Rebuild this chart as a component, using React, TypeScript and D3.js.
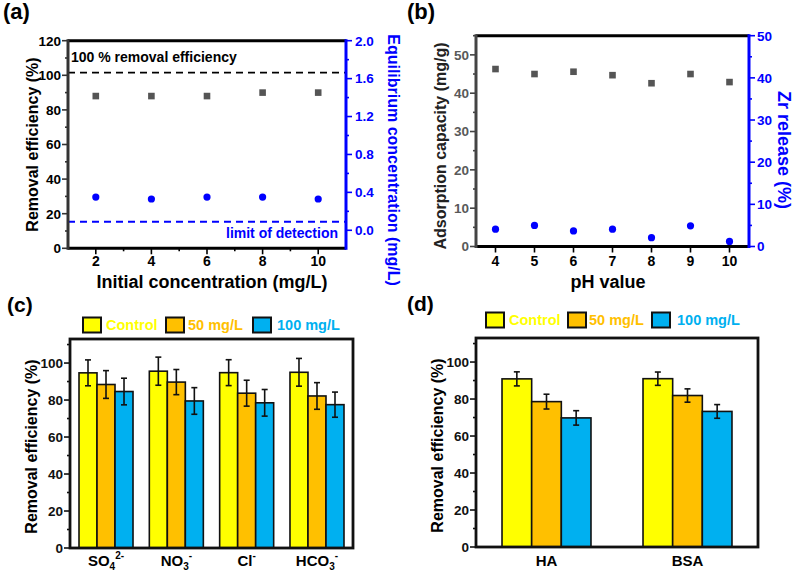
import React from 'react';
import * as d3 from 'd3';

const FONT = '"Liberation Sans", Arial, Helvetica, sans-serif';
const BLUE = '#0000ff';
const SQUARE_GRAY = '#555555';

// (a) removal vs initial concentration
const concX = [2, 4, 6, 8, 10];
const concRemoval = [88, 88, 88, 90, 90];
const concEquil = [0.35, 0.33, 0.35, 0.35, 0.33];
const fullRemovalLine = 101.5;
const detectionLimit = 0.09;

// (b) adsorption vs pH
const phX = [4, 5, 6, 7, 8, 9, 10];
const phCapacity = [46.3, 45.0, 45.6, 44.7, 42.6, 45.0, 42.9];
const phZrRelease = [4.1, 5.0, 3.7, 4.1, 2.1, 4.9, 1.2];

// (c), (d) bar groups
const seriesNames = ['Control', '50 mg/L', '100 mg/L'];
const seriesColors = ['#ffff00', '#ffc000', '#00b0f0'];

const ionLabels = [
  { base: 'SO', sub: '4', sup: '2-' },
  { base: 'NO', sub: '3', sup: '-' },
  { base: 'Cl', sub: '', sup: '-' },
  { base: 'HCO', sub: '3', sup: '-' },
];
const ionMeans = [
  [94.7, 88.4, 84.6],
  [95.6, 89.7, 79.5],
  [94.8, 83.7, 78.5],
  [95.0, 82.2, 77.5],
];
const ionErrors = [
  [7.0, 7.5, 7.2],
  [7.6, 6.8, 7.2],
  [7.0, 7.0, 7.2],
  [7.5, 7.2, 6.8],
];

const organicLabels = [
  { base: 'HA', sub: '', sup: '' },
  { base: 'BSA', sub: '', sup: '' },
];
const organicMeans = [
  [90.9, 78.6, 69.8],
  [91.0, 81.9, 73.3],
];
const organicErrors = [
  [3.8, 4.0, 3.9],
  [3.6, 3.6, 3.7],
];

const range = (a: number, b: number, s: number) => d3.range(a, b + s / 2, s).map(v => +v.toFixed(4));

type Lin = d3.ScaleLinear<number, number>;

const YTicks = ({ scale, values, x, len, color, w = 1.6 }: { scale: Lin; values: number[]; x: number; len: number; color: string; w?: number }) => (
  <g>
    {values.map(v => (
      <line key={v} x1={x} x2={x + len} y1={scale(v)} y2={scale(v)} stroke={color} strokeWidth={w} />
    ))}
  </g>
);

const XTicks = ({ scale, values, y, len, color, w = 1.6 }: { scale: Lin; values: number[]; y: number; len: number; color: string; w?: number }) => (
  <g>
    {values.map(v => (
      <line key={v} y1={y} y2={y + len} x1={scale(v)} x2={scale(v)} stroke={color} strokeWidth={w} />
    ))}
  </g>
);

const YLabels = ({ scale, values, x, anchor, color, fmt, size = 13.5 }: { scale: Lin; values: number[]; x: number; anchor: string; color: string; fmt: (v: number) => string; size?: number }) => (
  <g>
    {values.map(v => (
      <text key={v} x={x} y={scale(v)} dy="0.36em" textAnchor={anchor} fill={color} fontSize={size} fontWeight="bold">
        {fmt(v)}
      </text>
    ))}
  </g>
);

const XLabels = ({ scale, values, y, color, size = 14 }: { scale: Lin; values: number[]; y: number; color: string; size?: number }) => (
  <g>
    {values.map(v => (
      <text key={v} x={scale(v)} y={y} textAnchor="middle" fill={color} fontSize={size} fontWeight="bold">
        {v}
      </text>
    ))}
  </g>
);

const PanelA = () => {
  const L = 68, R = 346, T = 40.7, B = 248.3;
  const x = d3.scaleLinear().domain([1, 11]).range([L, R]);
  const yL = d3.scaleLinear().domain([0, 120]).range([B, T]);
  const yR = d3.scaleLinear().domain([-0.19, 2.0]).range([B, T]);
  return (
    <g>
      <text x={3} y={19} fontSize={22} fontWeight="bold">(a)</text>
      <line x1={L} x2={R} y1={yL(fullRemovalLine)} y2={yL(fullRemovalLine)} stroke="#000" strokeWidth={1.8} strokeDasharray="7,5" />
      <line x1={L} x2={R} y1={yR(detectionLimit)} y2={yR(detectionLimit)} stroke={BLUE} strokeWidth={1.8} strokeDasharray="7,5" />
      <text x={71} y={62} fontSize={14} fontWeight="bold">100 % removal efficiency</text>
      <text x={338} y={238} fontSize={14} fontWeight="bold" fill={BLUE} textAnchor="end">limit of detection</text>
      {concX.map((c, i) => (
        <rect key={`s${c}`} x={x(c) - 3.3} y={yL(concRemoval[i]) - 3.3} width={6.6} height={6.6} fill={SQUARE_GRAY} />
      ))}
      {concX.map((c, i) => (
        <circle key={`c${c}`} cx={x(c)} cy={yR(concEquil[i])} r={3.6} fill={BLUE} />
      ))}
      <YTicks scale={yL} values={range(0, 120, 20)} x={L} len={-6} color="#333" />
      <YTicks scale={yL} values={range(10, 110, 20)} x={L} len={-3} color="#333" />
      <YTicks scale={yR} values={range(0, 2, 0.4)} x={R} len={6} color={BLUE} />
      <YTicks scale={yR} values={range(0.2, 1.8, 0.4)} x={R} len={3} color={BLUE} />
      <XTicks scale={x} values={concX} y={B} len={6} color="#000" />
      <XTicks scale={x} values={[3, 5, 7, 9]} y={B} len={3} color="#000" />
      <line x1={L} x2={R} y1={T} y2={T} stroke="#000" strokeWidth={3} />
      <line x1={L} x2={R} y1={B} y2={B} stroke="#000" strokeWidth={3} />
      <line x1={L} x2={L} y1={T - 1.5} y2={B + 1.5} stroke="#333" strokeWidth={3} />
      <line x1={R} x2={R} y1={T - 1.5} y2={B + 1.5} stroke={BLUE} strokeWidth={3} />
      <YLabels scale={yL} values={range(0, 120, 20)} x={61} anchor="end" color="#000" fmt={d3.format('d')} />
      <YLabels scale={yR} values={range(0, 2, 0.4)} x={355} anchor="start" color={BLUE} fmt={d3.format('.1f')} />
      <XLabels scale={x} values={concX} y={266} color="#000" />
      <text x={212} y={288} textAnchor="middle" fontSize={18} fontWeight="bold">Initial concentration (mg/L)</text>
      <text transform={`translate(38,${(T + B) / 2}) rotate(-90)`} textAnchor="middle" fontSize={16} fontWeight="bold">Removal efficiency (%)</text>
      <text transform={`translate(388,160) rotate(90)`} textAnchor="middle" fontSize={16} fontWeight="bold" fill={BLUE}>Equilibrium concentration (mg/L)</text>
    </g>
  );
};

const PanelB = () => {
  const L = 476, R = 749, T = 35.7, B = 246.5;
  const x = d3.scaleLinear().domain([3.5, 10.5]).range([L, R]);
  const yL = d3.scaleLinear().domain([0, 55]).range([B, T]);
  const yR = d3.scaleLinear().domain([0, 50]).range([B, T]);
  return (
    <g>
      <text x={407} y={19} fontSize={22} fontWeight="bold">(b)</text>
      {phX.map((p, i) => (
        <rect key={`s${p}`} x={x(p) - 3.3} y={yL(phCapacity[i]) - 3.3} width={6.6} height={6.6} fill={SQUARE_GRAY} />
      ))}
      {phX.map((p, i) => (
        <circle key={`c${p}`} cx={x(p)} cy={yR(phZrRelease[i])} r={3.6} fill={BLUE} />
      ))}
      <YTicks scale={yL} values={range(0, 50, 10)} x={L} len={-6} color="#444" />
      <YTicks scale={yL} values={range(5, 55, 10)} x={L} len={-3} color="#444" />
      <YTicks scale={yR} values={range(0, 50, 10)} x={R} len={6} color={BLUE} />
      <YTicks scale={yR} values={range(5, 45, 10)} x={R} len={3} color={BLUE} />
      <XTicks scale={x} values={phX} y={B} len={6} color="#000" />
      <line x1={L} x2={R} y1={T} y2={T} stroke="#000" strokeWidth={3} />
      <line x1={L} x2={R} y1={B} y2={B} stroke="#000" strokeWidth={3} />
      <line x1={L} x2={L} y1={T - 1.5} y2={B + 1.5} stroke="#444" strokeWidth={3} />
      <line x1={R} x2={R} y1={T - 1.5} y2={B + 1.5} stroke={BLUE} strokeWidth={3} />
      <YLabels scale={yL} values={range(0, 50, 10)} x={469} anchor="end" color="#595959" fmt={d3.format('d')} />
      <YLabels scale={yR} values={range(0, 50, 10)} x={757} anchor="start" color={BLUE} fmt={d3.format('d')} />
      <XLabels scale={x} values={phX} y={266} color="#000" />
      <text x={608} y={288} textAnchor="middle" fontSize={18} fontWeight="bold">pH value</text>
      <text transform={`translate(446,146) rotate(-90)`} textAnchor="middle" fontSize={16} fontWeight="bold" fill="#222">Adsorption capacity (mg/g)</text>
      <text transform={`translate(778,150) rotate(90)`} textAnchor="middle" fontSize={18} fontWeight="bold" fill={BLUE}>Zr release (%)</text>
    </g>
  );
};

type Lbl = { base: string; sub: string; sup: string };

const CatLabel = ({ x, y, l }: { x: number; y: number; l: Lbl }) => (
  <text x={x} y={y} textAnchor="middle" fontSize={15} fontWeight="bold">
    <tspan>{l.base}</tspan>
    {l.sub && <tspan dy={4} fontSize={10}>{l.sub}</tspan>}
    {l.sup && <tspan dy={l.sub ? -11 : -7} fontSize={10}>{l.sup}</tspan>}
  </text>
);

const BarPanel = ({ tag, tagX, tagY, L, R, T, B, bandRange, padIn, padOut, labels, means, errors, legend }: {
  tag: string; tagX: number; tagY: number; L: number; R: number; T: number; B: number;
  bandRange: [number, number]; padIn: number; padOut: number;
  labels: Lbl[]; means: number[][]; errors: number[][];
  legend: { boxX: number[]; textX: number[]; y: number };
}) => {
  const keys = labels.map((l, i) => `${l.base}${i}`);
  const x0 = d3.scaleBand<string>().domain(keys).range(bandRange).paddingInner(padIn).paddingOuter(padOut);
  const x1 = d3.scaleBand<string>().domain(seriesNames).range([0, x0.bandwidth()]);
  const y = d3.scaleLinear().domain([0, 113]).range([B, T]);
  return (
    <g>
      <text x={tagX} y={tagY} fontSize={21} fontWeight="bold">{tag}</text>
      {seriesNames.map((s, si) => (
        <g key={s}>
          <rect x={legend.boxX[si]} y={legend.y - 7.5} width={18} height={15} fill={seriesColors[si]} stroke="#111" strokeWidth={2} />
          <text x={legend.textX[si]} y={legend.y + 5} fontSize={14.5} fontWeight="bold" fill={seriesColors[si]}>{s}</text>
        </g>
      ))}
      {keys.map((k, gi) => (
        <g key={k} transform={`translate(${x0(k)},0)`}>
          {seriesNames.map((s, si) => {
            const v = means[gi][si];
            const e = errors[gi][si];
            const bx = x1(s)!;
            const cx = bx + x1.bandwidth() / 2;
            return (
              <g key={s}>
                <rect x={bx} y={y(v)} width={x1.bandwidth()} height={B - y(v)} fill={seriesColors[si]} stroke="#111" strokeWidth={1.6} />
                <line x1={cx} x2={cx} y1={y(v + e)} y2={y(v - e)} stroke="#111" strokeWidth={1.6} />
                <line x1={cx - 3} x2={cx + 3} y1={y(v + e)} y2={y(v + e)} stroke="#111" strokeWidth={1.6} />
                <line x1={cx - 3} x2={cx + 3} y1={y(v - e)} y2={y(v - e)} stroke="#111" strokeWidth={1.6} />
              </g>
            );
          })}
        </g>
      ))}
      <YTicks scale={y} values={range(0, 100, 20)} x={L} len={-6} color="#111" />
      <YTicks scale={y} values={range(10, 110, 20)} x={L} len={-3} color="#111" />
      <rect x={L} y={T} width={R - L} height={B - T} fill="none" stroke="#111" strokeWidth={2.8} />
      <YLabels scale={y} values={range(0, 100, 20)} x={L - 7} anchor="end" color="#111" fmt={d3.format('d')} />
      {keys.map((k, gi) => (
        <CatLabel key={k} x={x0(k)! + x0.bandwidth() / 2} y={566} l={labels[gi]} />
      ))}
      <text transform={`translate(${L - 33},${(T + B) / 2 + 3}) rotate(-90)`} textAnchor="middle" fontSize={16} fontWeight="bold">Removal efficiency (%)</text>
    </g>
  );
};

export default function App() {
  return (
    <svg width={800} height={574} viewBox="0 0 800 574" style={{ position: 'absolute', left: 0, top: 0, background: '#fff' }} fontFamily={FONT}>
      <rect width={800} height={574} fill="#fff" />
      <PanelA />
      <PanelB />
      <BarPanel
        tag="(c)" tagX={7} tagY={312}
        L={70} R={353} T={339} B={548}
        bandRange={[70, 353]} padIn={0.232} padOut={0.128}
        labels={ionLabels} means={ionMeans} errors={ionErrors}
        legend={{ boxX: [83, 166, 253], textX: [106, 188, 277], y: 325 }}
      />
      <BarPanel
        tag="(d)" tagX={407} tagY={311}
        L={476} R={758} T={338} B={547}
        bandRange={[476, 758]} padIn={0.369} padOut={0.1845}
        labels={organicLabels} means={organicMeans} errors={organicErrors}
        legend={{ boxX: [486, 568, 652], textX: [509, 589, 677], y: 320 }}
      />
    </svg>
  );
}
